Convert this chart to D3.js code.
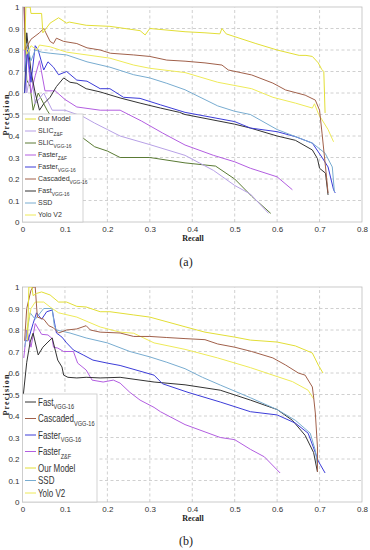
<!DOCTYPE html>
<html><head><meta charset="utf-8">
<script src="https://cdn.jsdelivr.net/npm/d3@7"></script>
<style>body{margin:0;background:#fff}svg{display:block}</style>
</head><body>
<svg id="c" width="370" height="550"></svg>
<script>
// ---------- data ----------
const xTicks = [0,0.1,0.2,0.3,0.4,0.5,0.6,0.7,0.8];
const xTickLabels = ["0","0.1","0.2","0.3","0.4","0.5","0.6","0.7","0.8"];
const yTicks = [0,0.1,0.2,0.3,0.4,0.5,0.6,0.7,0.8,0.9,1];
const yTickLabels = ["0","0.1","0.2","0.3","0.4","0.5","0.6","0.7","0.8","0.9","1"];

// panel (a) series: [recall, precision]
const ourModelA = [[0.005,0.8],[0.008,1.0],[0.018,1.0],[0.02,0.97],[0.045,0.97],[0.048,0.88],[0.065,0.925],[0.085,0.95],[0.104,0.925],[0.11,0.93],[0.15,0.915],[0.206,0.91],[0.277,0.89],[0.289,0.87],[0.3,0.9],[0.383,0.885],[0.43,0.88],[0.465,0.875],[0.47,0.9],[0.48,0.875],[0.55,0.83],[0.6,0.8],[0.652,0.775],[0.668,0.775],[0.683,0.77],[0.697,0.74],[0.705,0.71],[0.71,0.7],[0.713,0.507]];
const slicZFA = [[0.004,0.9],[0.01,0.6],[0.02,0.7],[0.03,0.55],[0.05,0.6],[0.07,0.52],[0.1,0.52],[0.143,0.49],[0.17,0.46],[0.2,0.43],[0.23,0.4],[0.3,0.36],[0.383,0.31],[0.45,0.24],[0.5,0.17],[0.537,0.13],[0.58,0.04]];
const slicVggA = [[0.004,1.0],[0.01,0.66],[0.018,0.63],[0.025,0.52],[0.037,0.6],[0.05,0.55],[0.058,0.52],[0.08,0.45],[0.12,0.35],[0.143,0.39],[0.17,0.35],[0.2,0.33],[0.23,0.3],[0.3,0.3],[0.383,0.275],[0.455,0.26],[0.5,0.2],[0.54,0.12],[0.585,0.04]];
const fasterZFA = [[0.004,1.0],[0.006,0.7],[0.01,0.82],[0.02,0.6],[0.03,0.68],[0.04,0.75],[0.053,0.61],[0.077,0.61],[0.1,0.57],[0.128,0.535],[0.183,0.52],[0.23,0.52],[0.28,0.47],[0.33,0.414],[0.383,0.358],[0.45,0.31],[0.5,0.28],[0.537,0.25],[0.6,0.21],[0.636,0.15]];
const fasterVggA = [[0.005,0.6],[0.012,0.8],[0.02,0.65],[0.03,0.82],[0.037,0.8],[0.05,0.707],[0.06,0.745],[0.073,0.72],[0.085,0.685],[0.104,0.7],[0.128,0.66],[0.152,0.655],[0.183,0.62],[0.206,0.62],[0.238,0.58],[0.277,0.575],[0.325,0.545],[0.383,0.51],[0.5,0.467],[0.537,0.437],[0.6,0.42],[0.643,0.397],[0.683,0.367],[0.706,0.3],[0.72,0.256],[0.733,0.15],[0.737,0.135]];
const cascadedA = [[0.004,1.0],[0.006,0.8],[0.02,0.85],[0.04,0.88],[0.05,0.9],[0.055,0.88],[0.065,0.84],[0.073,0.83],[0.08,0.855],[0.097,0.84],[0.128,0.83],[0.152,0.81],[0.183,0.8],[0.207,0.785],[0.262,0.777],[0.3,0.77],[0.34,0.753],[0.383,0.748],[0.43,0.74],[0.47,0.73],[0.485,0.707],[0.54,0.684],[0.59,0.646],[0.62,0.614],[0.666,0.59],[0.69,0.567],[0.7,0.52],[0.706,0.41],[0.714,0.256],[0.72,0.135]];
const fastA = [[0.005,0.6],[0.01,0.88],[0.02,0.7],[0.03,0.6],[0.04,0.52],[0.05,0.55],[0.065,0.58],[0.08,0.63],[0.097,0.67],[0.112,0.65],[0.128,0.645],[0.15,0.62],[0.183,0.605],[0.23,0.577],[0.277,0.553],[0.325,0.53],[0.37,0.51],[0.383,0.5],[0.5,0.455],[0.537,0.437],[0.6,0.4],[0.643,0.38],[0.683,0.335],[0.695,0.295],[0.7,0.25],[0.714,0.227],[0.72,0.126]];
const ssdA = [[0.005,0.7],[0.01,0.83],[0.02,0.75],[0.03,0.8],[0.045,0.79],[0.065,0.785],[0.104,0.777],[0.152,0.745],[0.206,0.72],[0.262,0.685],[0.3,0.67],[0.34,0.645],[0.383,0.615],[0.46,0.54],[0.5,0.515],[0.537,0.5],[0.6,0.43],[0.683,0.367],[0.713,0.32],[0.73,0.256],[0.735,0.14]];
const yoloA = [[0.006,0.85],[0.01,0.78],[0.02,0.82],[0.034,0.8],[0.04,0.823],[0.065,0.815],[0.104,0.79],[0.152,0.777],[0.206,0.762],[0.262,0.73],[0.3,0.715],[0.383,0.695],[0.46,0.65],[0.54,0.62],[0.59,0.58],[0.643,0.553],[0.683,0.53],[0.688,0.55],[0.698,0.5],[0.706,0.475],[0.72,0.43],[0.733,0.373]];

// panel (b) series
const fastB = [[0.002,0.5],[0.01,0.65],[0.018,0.744],[0.025,0.785],[0.037,0.684],[0.048,0.72],[0.06,0.744],[0.07,0.763],[0.083,0.66],[0.093,0.628],[0.097,0.59],[0.107,0.58],[0.128,0.577],[0.15,0.58],[0.183,0.577],[0.23,0.58],[0.31,0.558],[0.383,0.545],[0.466,0.52],[0.537,0.474],[0.6,0.43],[0.636,0.38],[0.666,0.31],[0.686,0.23],[0.695,0.14]];
const cascadedB = [[0.005,0.75],[0.01,0.9],[0.02,0.985],[0.025,1.0],[0.03,1.0],[0.035,0.86],[0.05,0.85],[0.062,0.82],[0.073,0.81],[0.085,0.786],[0.104,0.8],[0.128,0.805],[0.15,0.82],[0.16,0.8],[0.183,0.79],[0.23,0.786],[0.262,0.77],[0.3,0.77],[0.34,0.765],[0.383,0.76],[0.43,0.755],[0.46,0.735],[0.5,0.72],[0.54,0.7],[0.59,0.67],[0.62,0.637],[0.65,0.6],[0.666,0.59],[0.683,0.535],[0.686,0.488],[0.69,0.414],[0.695,0.256],[0.695,0.14]];
const fasterVggB = [[0.005,0.75],[0.013,0.75],[0.025,0.83],[0.033,0.88],[0.045,0.85],[0.057,0.885],[0.07,0.893],[0.073,0.86],[0.08,0.786],[0.093,0.767],[0.104,0.74],[0.12,0.707],[0.143,0.684],[0.166,0.66],[0.2,0.646],[0.23,0.635],[0.31,0.59],[0.33,0.55],[0.39,0.51],[0.466,0.465],[0.537,0.42],[0.6,0.405],[0.643,0.367],[0.673,0.32],[0.69,0.23],[0.697,0.19],[0.713,0.135]];
const fasterZFB = [[0.003,0.67],[0.01,0.8],[0.02,0.72],[0.03,0.83],[0.045,0.78],[0.06,0.777],[0.07,0.76],[0.073,0.72],[0.083,0.716],[0.097,0.7],[0.12,0.7],[0.13,0.646],[0.15,0.614],[0.164,0.567],[0.19,0.558],[0.214,0.567],[0.23,0.553],[0.253,0.51],[0.277,0.474],[0.31,0.44],[0.325,0.42],[0.383,0.36],[0.466,0.3],[0.5,0.29],[0.537,0.245],[0.57,0.21],[0.607,0.135]];
const ourModelB = [[0.012,0.75],[0.015,1.0],[0.022,1.0],[0.025,0.96],[0.033,0.97],[0.045,0.977],[0.065,0.963],[0.085,0.93],[0.104,0.93],[0.128,0.91],[0.15,0.907],[0.183,0.885],[0.206,0.885],[0.262,0.87],[0.3,0.86],[0.383,0.815],[0.43,0.79],[0.5,0.767],[0.537,0.753],[0.6,0.744],[0.643,0.726],[0.683,0.693],[0.697,0.637],[0.708,0.6]];
const ssdB = [[0.005,0.72],[0.018,0.88],[0.03,0.85],[0.05,0.9],[0.07,0.9],[0.075,0.82],[0.08,0.8],[0.112,0.786],[0.15,0.763],[0.2,0.74],[0.253,0.7],[0.3,0.675],[0.34,0.65],[0.383,0.62],[0.424,0.58],[0.466,0.544],[0.537,0.485],[0.6,0.43],[0.643,0.38],[0.678,0.32],[0.69,0.24],[0.695,0.17]];
const yoloB = [[0.01,0.8],[0.02,0.9],[0.03,0.93],[0.05,0.93],[0.065,0.907],[0.085,0.88],[0.128,0.86],[0.183,0.814],[0.23,0.79],[0.262,0.785],[0.31,0.74],[0.383,0.71],[0.46,0.67],[0.537,0.625],[0.59,0.59],[0.636,0.56],[0.673,0.52],[0.686,0.48]];

// legend names: [main, subscript]
const legendA = [["Our Model",""],["SLIC","Z&F"],["SLIC","VGG-16"],["Faster","Z&F"],["Faster","VGG-16"],["Cascaded","VGG-16"],["Fast","VGG-16"],["SSD",""],["Yolo V2",""]];
const legendB = [["Fast","VGG-16"],["Cascaded","VGG-16"],["Faster","VGG-16"],["Faster","Z&F"],["Our Model",""],["SSD",""],["Yolo V2",""]];
const seriesA = [ourModelA, slicZFA, slicVggA, fasterZFA, fasterVggA, cascadedA, fastA, ssdA, yoloA];
const seriesB = [fastB, cascadedB, fasterVggB, fasterZFB, ourModelB, ssdB, yoloB];

// ---------- styles ----------
const colorsA = ["#e2de36","#b7a0e6","#5a7a34","#b25ee0","#3c3cd8","#a0604a","#333333","#78acd0","#eeea58"];
const colorsB = ["#333333","#a0604a","#3c3cd8","#b25ee0","#e2de36","#78acd0","#eeea58"];
const drawOrderA = [2,1,3,6,4,7,8,5,0];
const drawOrderB = [3,0,2,5,6,1,4];

const svg = d3.select("#c");
const x = d3.scaleLinear().domain([0,0.8]).range([22.5,362]);

function panel(cfg){
  const y = d3.scaleLinear().domain([0,1]).range([cfg.bottom, cfg.top]);
  const g = svg.append("g");
  const id = "clip"+cfg.name;
  svg.append("clipPath").attr("id",id).append("rect")
    .attr("x",x(0)).attr("y",y(1)).attr("width",x(0.8)-x(0)).attr("height",y(0)-y(1));
  g.selectAll(".gx").data(xTicks.slice(1,-1)).join("line")
    .attr("x1",d=>x(d)).attr("x2",d=>x(d)).attr("y1",y(0)).attr("y2",y(1))
    .attr("stroke","#c4c4c4").attr("stroke-width",0.8).attr("stroke-dasharray","3,2.5");
  g.selectAll(".gy").data(yTicks.slice(1,-1)).join("line")
    .attr("y1",d=>y(d)).attr("y2",d=>y(d)).attr("x1",x(0)).attr("x2",x(0.8))
    .attr("stroke","#c4c4c4").attr("stroke-width",0.8).attr("stroke-dasharray","3,2.5");
  g.append("rect").attr("x",x(0)).attr("y",y(1)).attr("width",x(0.8)-x(0)).attr("height",y(0)-y(1))
    .attr("fill","none").attr("stroke","#bdbdbd").attr("stroke-width",0.8);
  const line = d3.line().x(d=>x(d[0])).y(d=>y(d[1]));
  const lg = g.append("g").attr("clip-path",`url(#${id})`);
  cfg.order.forEach(i=>{
    lg.append("path").attr("d",line(cfg.series[i])).attr("fill","none")
      .attr("stroke",cfg.colors[i]).attr("stroke-width",1).attr("stroke-linejoin","round");
  });
  const ax = d3.axisBottom(x).tickValues(xTicks).tickFormat((d,i)=>xTickLabels[i]).tickSize(0).tickPadding(4);
  const axg = g.append("g").attr("transform",`translate(0,${y(0)})`).call(ax);
  axg.select(".domain").remove();
  axg.selectAll("text").attr("font-family","Liberation Sans, Arial, sans-serif").attr("font-size",8).attr("fill","#333");
  const ay = d3.axisLeft(y).tickValues(yTicks).tickFormat((d,i)=>yTickLabels[i]).tickSize(0).tickPadding(3);
  const ayg = g.append("g").attr("transform",`translate(${x(0)},0)`).call(ay);
  ayg.select(".domain").remove();
  ayg.selectAll("text").attr("font-family","Liberation Sans, Arial, sans-serif").attr("font-size",8).attr("fill","#333");
  const L = cfg.leg;
  g.append("rect").attr("x",L.x).attr("y",L.y).attr("width",L.w).attr("height",L.h)
    .attr("fill","#fff").attr("stroke","#c8c8c8").attr("stroke-width",0.8);
  let yy = L.first;
  cfg.names.forEach((n,i)=>{
    g.append("line").attr("x1",L.x+2.5).attr("x2",L.x+13.5).attr("y1",yy).attr("y2",yy)
      .attr("stroke",cfg.colors[i]).attr("stroke-width",1);
    const t = g.append("text").attr("transform",`translate(${L.x+15.5},${yy+L.fs*0.35}) scale(${L.sx},1)`)
      .attr("font-family",L.font).attr("font-size",L.fs).attr("fill","#333");
    t.append("tspan").text(n[0]);
    if(n[1]) t.append("tspan").attr("dy",L.fs*0.35).attr("font-size",L.fs*0.7).text(n[1]);
    yy += n[1] ? L.stepSub : L.step;
  });
  svg.append("text").attr("x",193).attr("y",y(0)+19).attr("text-anchor","middle")
    .attr("font-family","Liberation Serif, Times New Roman, serif").attr("font-weight","bold")
    .attr("font-size",8).attr("fill","#222").text("Recall");
  svg.append("text").attr("transform",`translate(9,${(y(0)+y(1))/2}) rotate(-90)`).attr("text-anchor","middle")
    .attr("font-family","Liberation Serif, Times New Roman, serif").attr("font-weight","bold")
    .attr("font-size",8).attr("letter-spacing",1.2).attr("fill","#222").text("Precision");
  svg.append("text").attr("x",186).attr("y",cfg.capY).attr("text-anchor","middle")
    .attr("font-family","Liberation Serif, Times New Roman, serif")
    .attr("font-size",12).attr("fill","#222").text(cfg.cap);
}

panel({name:"a", top:7, bottom:222, series:seriesA, colors:colorsA, order:drawOrderA, names:legendA,
  leg:{x:22.5,y:114,w:60.5,h:108,first:119,step:12,stepSub:12,fs:7,sx:1,font:"Liberation Sans, Arial, sans-serif"},
  cap:"(a)", capY:266});
panel({name:"b", top:287, bottom:502, series:seriesB, colors:colorsB, order:drawOrderB, names:legendB,
  leg:{x:22.5,y:394,w:74.5,h:108,first:402,step:12.5,stepSub:16.5,fs:10,sx:0.8,font:"Liberation Sans, Arial, sans-serif"},
  cap:"(b)", capY:545});
</script>
</body></html>
